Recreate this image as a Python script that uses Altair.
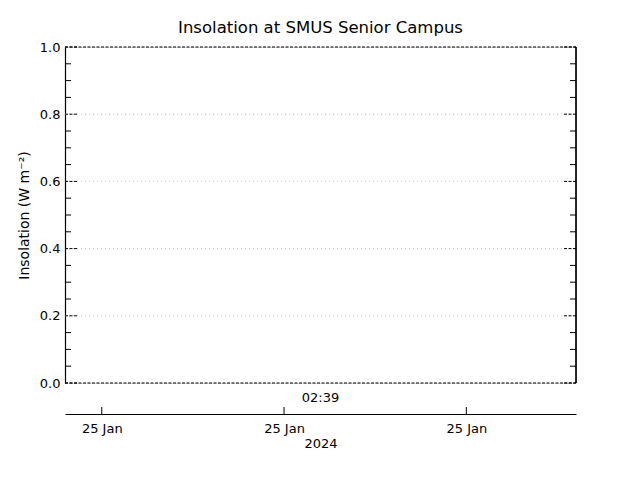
import altair as alt
import pandas as pd

# ---- data ----
y_major = [0.0, 0.2, 0.4, 0.6, 0.8, 1.0]
y_minor = [0.05, 0.10, 0.15, 0.25, 0.30, 0.35, 0.45, 0.50, 0.55,
           0.65, 0.70, 0.75, 0.85, 0.90, 0.95]
y_grid = [0.2, 0.4, 0.6, 0.8]
y_frame = [0.0, 1.0]
tick_times = ["2024-01-25T02:20:00", "2024-01-25T02:40:00", "2024-01-25T03:00:00"]
center_label = ["02:39"]
center_time = ["2024-01-25T02:44:00"]
x_start = (2024, 1, 25, 2, 15, 58)
x_end = (2024, 1, 25, 3, 12, 2)

W, H = 511, 336
FONT = "DejaVu Sans"

def dt(t):
    return alt.DateTime(year=t[0], month=t[1], date=t[2], hours=t[3], minutes=t[4], seconds=t[5])

xscale = alt.Scale(domain=[dt(x_start), dt(x_end)])
yscale = alt.Scale(domain=[0, 1])

major_df = pd.DataFrame({"v": y_major})
minor_df = pd.DataFrame({"v": y_minor})
grid_df = pd.DataFrame({"v": y_grid})
frame_df = pd.DataFrame({"v": y_frame})
ticks_df = pd.DataFrame({"t": tick_times})
center_df = pd.DataFrame({"t": center_time, "label": center_label})

# base layer that carries axes
base = alt.Chart(ticks_df).mark_rule(color="black", strokeWidth=1).encode(
    x=alt.X("t:T", scale=xscale,
            axis=alt.Axis(values=[dt((2024, 1, 25, 2, 20, 0)), dt((2024, 1, 25, 2, 40, 0)),
                                  dt((2024, 1, 25, 3, 0, 0))],
                          format="%d %b", orient="bottom", offset=31, ticks=False,
                          grid=False, domainColor="black", domainWidth=1.2,
                          labelPadding=8, labelFontSize=13, labelFont=FONT,
                          labelColor="black", title="2024", titleFont=FONT,
                          titleFontSize=13, titleFontWeight="normal",
                          titleColor="black", titlePadding=2)),
    y=alt.value(H + 24),
    y2=alt.value(H + 31),
)

grid = alt.Chart(grid_df).mark_rule(color="#c4c4c4", strokeDash=[1, 3], strokeWidth=1).encode(
    y=alt.Y("v:Q", scale=yscale,
            axis=alt.Axis(values=y_major, format=".1f", ticks=False, grid=False,
                          domainColor="black", domainWidth=1.2, labelPadding=5,
                          labelFontSize=13, labelFont=FONT, labelColor="black",
                          title="Insolation (W m⁻²)", titleFont=FONT, titleFontSize=14,
                          titleFontWeight="normal", titleColor="black", titlePadding=8)),
    x=alt.value(0), x2=alt.value(W),
)

frame = alt.Chart(frame_df).mark_rule(color="black", strokeDash=[3, 1.5], strokeWidth=1).encode(
    y=alt.Y("v:Q", scale=yscale), x=alt.value(0), x2=alt.value(W),
)

right_side = alt.Chart(frame_df).mark_rule(color="black", strokeWidth=1.2).encode(
    y=alt.value(0), y2=alt.value(H), x=alt.value(W),
)

major_l = alt.Chart(major_df).mark_rule(color="black", strokeDash=[3, 1.5]).encode(
    y=alt.Y("v:Q", scale=yscale), x=alt.value(0), x2=alt.value(12))
major_r = alt.Chart(major_df).mark_rule(color="black", strokeDash=[3, 1.5]).encode(
    y=alt.Y("v:Q", scale=yscale), x=alt.value(W - 12), x2=alt.value(W))
minor_l = alt.Chart(minor_df).mark_rule(color="black").encode(
    y=alt.Y("v:Q", scale=yscale), x=alt.value(0), x2=alt.value(6))
minor_r = alt.Chart(minor_df).mark_rule(color="black").encode(
    y=alt.Y("v:Q", scale=yscale), x=alt.value(W - 6), x2=alt.value(W))

center = alt.Chart(center_df).mark_text(font=FONT, fontSize=13, color="black",
                                        baseline="middle", align="center").encode(
    x=alt.X("t:T", scale=xscale), y=alt.value(H + 15), text="label:N")

chart = alt.layer(base, grid, frame, right_side, major_l, major_r, minor_l, minor_r, center).properties(
    width=W, height=H,
    title=alt.TitleParams("Insolation at SMUS Senior Campus", font=FONT, fontSize=16.5,
                          fontWeight="normal", color="black", offset=5),
    autosize=alt.AutoSizeParams(type="none"),
    padding={"left": 57, "top": 39, "right": 56, "bottom": 89},
).configure_view(stroke=None).configure(background="white")

chart.save("out.html", embed_options={"renderer": "svg", "actions": False})
